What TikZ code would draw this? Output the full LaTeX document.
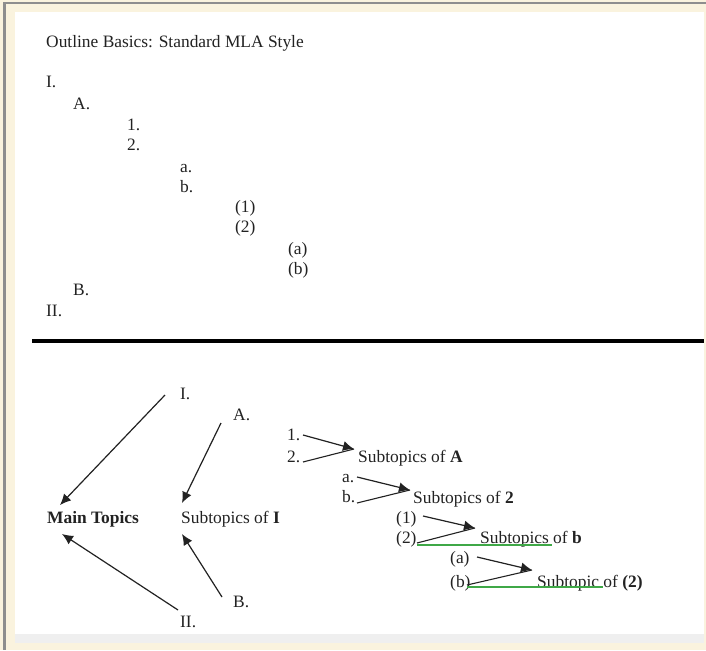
\documentclass[tikz,border=0pt]{standalone}
\usepackage{fontspec}
\setmainfont{Liberation Serif}
\usetikzlibrary{arrows.meta}
\definecolor{beige}{HTML}{FAF3DE}
\definecolor{framegray}{HTML}{8E8E8E}
\definecolor{ink}{HTML}{222222}
\definecolor{grn}{HTML}{3FA847}
\definecolor{band}{HTML}{EFEFEF}
\begin{document}
\begin{tikzpicture}[x=1pt,y=-1pt,
  lbl/.style={anchor=base west, inner sep=0pt, text=ink, font=\fontsize{17.4}{19}\selectfont},
  arr/.style={draw=ink, line width=1.2pt, -{Latex[length=11pt,width=10pt]}},
  ln/.style={draw=ink, line width=1.1pt},
  gline/.style={draw=grn, line width=1.2pt}]
\useasboundingbox (0,0) rectangle (706,650);
% background and frame
\fill[beige] (0,0) rectangle (706,650);
\fill[framegray] (3,2) rectangle (706,4.5);
\fill[framegray] (3,2) rectangle (5.5,650);
\fill[white] (15,12) rectangle (704,634);
\fill[band] (15,634) rectangle (704,643);
% rule
\fill[black] (32,339) rectangle (704,343);

% top outline
\node[lbl] (title) at (46,48) {Outline Basics: Standard MLA Style};
\node[lbl] (tI) at (46,88) {I.};
\node[lbl] (tA) at (73,110) {A.};
\node[lbl] (t1) at (127,130) {1.};
\node[lbl] (t2) at (127,150) {2.};
\node[lbl] (ta) at (180,172) {a.};
\node[lbl] (tb) at (180,192) {b.};
\node[lbl] (tp1) at (235,212) {(1)};
\node[lbl] (tp2) at (235,232) {(2)};
\node[lbl] (tpa) at (288,254) {(a)};
\node[lbl] (tpb) at (288,274) {(b)};
\node[lbl] (tB) at (73,295) {B.};
\node[lbl] (tII) at (46,316) {II.};

% lower diagram
\node[lbl] (mt) at (47,523) {\textbf{Main Topics}};
\node[lbl] (sI) at (181,523) {Subtopics of \textbf{I}};
\node[lbl] (bI) at (180,399) {I.};
\node[lbl] (bA) at (233,420) {A.};
\node[lbl] (bB) at (233,607) {B.};
\node[lbl] (bII) at (180,627) {II.};

\coordinate (c1s) at (165,395); \coordinate (c1e) at (60,505);
\coordinate (c2s) at (221,423); \coordinate (c2e) at (182,503);
\coordinate (c3s) at (178,610); \coordinate (c3e) at (62,534);
\coordinate (c4s) at (222,597); \coordinate (c4e) at (182,534);
\draw[arr] (c1s) -- (c1e);
\draw[arr] (c2s) -- (c2e);
\draw[arr] (c3s) -- (c3e);
\draw[arr] (c4s) -- (c4e);

% subtopics of A
\node[lbl] (b1) at (287,440) {1.};
\node[lbl] (b2) at (287,462) {2.};
\node[lbl] (sA) at (358,462) {Subtopics of \textbf{A}};
\coordinate (g1a) at (303,435); \coordinate (g1b) at (303,462); \coordinate (g1t) at (354,449);
\draw[ln] (g1b) -- (g1t);
\draw[arr] (g1a) -- (g1t);

% subtopics of 2
\node[lbl] (ba) at (342,482) {a.};
\node[lbl] (bb) at (342,502) {b.};
\node[lbl] (s2) at (413,503) {Subtopics of \textbf{2}};
\coordinate (g2a) at (357,477); \coordinate (g2b) at (357,503); \coordinate (g2t) at (410,490);
\draw[ln] (g2b) -- (g2t);
\draw[arr] (g2a) -- (g2t);

% subtopics of b
\node[lbl] (bp1) at (396,523) {(1)};
\node[lbl] (bp2) at (396,543) {(2)};
\node[lbl] (sb) at (480,543) {Subtopics of \textbf{b}};
\coordinate (g3a) at (423,516); \coordinate (g3b) at (417,543); \coordinate (g3t) at (475,528);
\draw[gline] (417,545) -- (552,545);
\draw[ln] (g3b) -- (g3t);
\draw[arr] (g3a) -- (g3t);

% subtopic of (2)
\node[lbl] (bpa) at (450,563) {(a)};
\node[lbl] (bpb) at (450,587) {(b)};
\node[lbl] (s22) at (537,587) {Subtopic of \textbf{(2)}};
\coordinate (g4a) at (477,557); \coordinate (g4b) at (467,585); \coordinate (g4t) at (532,570);
\draw[gline] (467,587) -- (603,587);
\draw[ln] (g4b) -- (g4t);
\draw[arr] (g4a) -- (g4t);
\end{tikzpicture}
\end{document}
